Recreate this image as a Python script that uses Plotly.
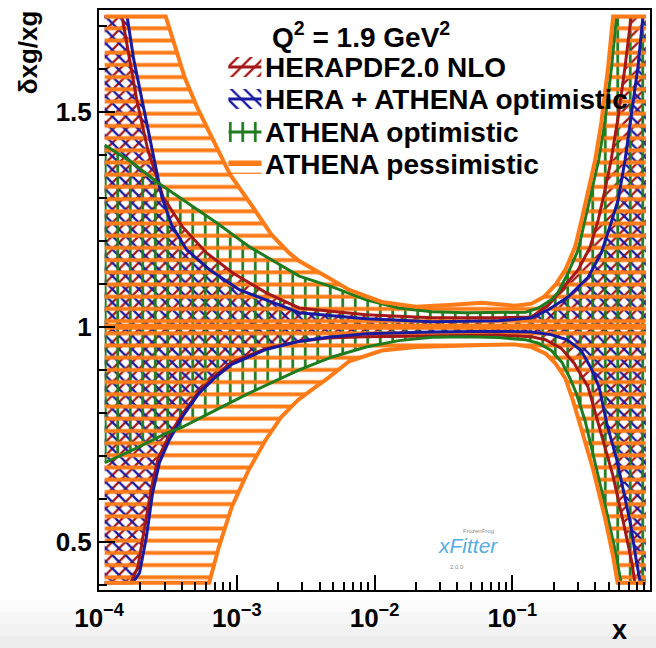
import plotly.graph_objects as go

# Relative gluon uncertainty bands, delta xg / xg at Q^2 = 1.9 GeV^2
# --- HERAPDF2.0 NLO ---
hera_x_up = [1.10e-4, 1.47e-4, 1.67e-4, 1.88e-4, 2.26e-4, 2.92e-4, 4.03e-4, 6.04e-4, 9.31e-4,
             1.64e-3, 2.84e-3, 8.69e-3, 2.61e-2, 7.94e-2, 0.138, 0.183, 0.227, 0.301, 0.368,
             0.421, 0.465, 0.522, 0.587, 0.659, 0.730, 0.933]
hera_up = [1.722, 1.722, 1.621, 1.528, 1.412, 1.302, 1.233, 1.172, 1.126,
           1.079, 1.044, 1.028, 1.021, 1.021, 1.023, 1.051, 1.086, 1.133, 1.186,
           1.249, 1.310, 1.388, 1.488, 1.605, 1.722, 1.722]
hera_x_lo = [1.10e-4, 1.70e-4, 1.91e-4, 2.14e-4, 2.40e-4, 2.69e-4, 3.24e-4, 4.03e-4, 5.33e-4,
             7.08e-4, 9.20e-4, 1.62e-3, 2.79e-3, 4.59e-3, 8.69e-3, 2.61e-2, 7.94e-2, 0.138,
             0.174, 0.227, 0.282, 0.355, 0.437, 0.537, 0.646, 0.741, 0.776, 0.933]
hera_lo = [0.405, 0.405, 0.440, 0.530, 0.625, 0.695, 0.748, 0.797, 0.850,
           0.888, 0.918, 0.949, 0.966, 0.974, 0.977, 0.979, 0.981, 0.977,
           0.970, 0.950, 0.915, 0.860, 0.760, 0.655, 0.540, 0.450, 0.405, 0.405]

# --- HERA + ATHENA optimistic ---
comb_x_up = [1.10e-4, 1.60e-4, 1.79e-4, 2.05e-4, 2.42e-4, 2.86e-4, 3.37e-4, 4.34e-4, 6.35e-4,
             1.05e-3, 2.04e-3, 2.84e-3, 8.69e-3, 2.61e-2, 7.94e-2, 0.138, 0.183, 0.255,
             0.356, 0.443, 0.522, 0.587, 0.659, 0.730, 0.818, 0.889, 0.933]
comb_up = [1.722, 1.722, 1.621, 1.528, 1.412, 1.302, 1.237, 1.179, 1.133,
           1.086, 1.051, 1.033, 1.019, 1.012, 1.014, 1.021, 1.040, 1.070,
           1.116, 1.172, 1.242, 1.295, 1.388, 1.488, 1.605, 1.722, 1.722]
comb_x_lo = [1.10e-4, 1.76e-4, 1.97e-4, 2.21e-4, 2.45e-4, 2.75e-4, 3.24e-4, 4.03e-4, 5.33e-4,
             7.08e-4, 9.20e-4, 1.62e-3, 2.79e-3, 4.59e-3, 8.69e-3, 2.61e-2, 7.94e-2, 0.138,
             0.191, 0.251, 0.316, 0.372, 0.427, 0.490, 0.575, 0.646, 0.724, 0.794, 0.851, 0.933]
comb_lo = [0.405, 0.405, 0.428, 0.512, 0.614, 0.685, 0.737, 0.791, 0.846,
           0.884, 0.913, 0.947, 0.966, 0.976, 0.984, 0.988, 0.990, 0.988,
           0.982, 0.970, 0.945, 0.905, 0.860, 0.770, 0.690, 0.614, 0.540, 0.458, 0.405, 0.405]

# --- ATHENA optimistic ---
opt_x_up = [1.10e-4, 1.76e-4, 2.63e-4, 4.06e-4, 7.14e-4, 1.24e-3, 2.14e-3, 2.84e-3, 4.93e-3,
            8.69e-3, 1.50e-2, 2.61e-2, 4.59e-2, 7.94e-2, 0.125, 0.155, 0.192, 0.216, 0.255,
            0.301, 0.336, 0.371, 0.424, 0.469, 0.526, 0.571, 0.933]
opt_up = [1.423, 1.381, 1.337, 1.295, 1.242, 1.186, 1.140, 1.118, 1.093,
          1.063, 1.044, 1.035, 1.033, 1.033, 1.034, 1.044, 1.063, 1.081, 1.126,
          1.179, 1.245, 1.310, 1.388, 1.474, 1.605, 1.722, 1.722]
opt_x_lo = [1.10e-4, 1.76e-4, 3.09e-4, 4.03e-4, 7.08e-4, 1.23e-3, 2.11e-3, 2.84e-3, 4.93e-3,
            8.69e-3, 1.50e-2, 2.61e-2, 4.59e-2, 7.94e-2, 0.125, 0.155, 0.192, 0.229, 0.263,
            0.292, 0.339, 0.407, 0.484, 0.550, 0.596, 0.617, 0.933]
opt_lo = [0.684, 0.714, 0.753, 0.767, 0.807, 0.846, 0.881, 0.900, 0.930,
          0.953, 0.968, 0.976, 0.977, 0.975, 0.970, 0.962, 0.945, 0.918, 0.880,
          0.845, 0.780, 0.675, 0.570, 0.490, 0.430, 0.405, 0.405]

# --- ATHENA pessimistic ---
pes_x_up = [1.10e-4, 3.05e-4, 3.66e-4, 4.19e-4, 5.12e-4, 6.68e-4, 8.91e-4, 1.30e-3, 1.78e-3,
            2.40e-3, 2.84e-3, 4.53e-3, 6.55e-3, 1.13e-2, 2.00e-2, 3.46e-2, 6.00e-2, 0.105,
            0.138, 0.170, 0.206, 0.243, 0.286, 0.317, 0.350, 0.400, 0.443, 0.497, 0.540, 0.933]
pes_up = [1.722, 1.722, 1.641, 1.580, 1.513, 1.435, 1.355, 1.280, 1.215,
          1.172, 1.153, 1.116, 1.086, 1.058, 1.047, 1.051, 1.056, 1.049,
          1.054, 1.070, 1.098, 1.133, 1.186, 1.245, 1.310, 1.388, 1.474, 1.605, 1.722, 1.722]
pes_x_lo = [1.10e-4, 6.31e-4, 7.41e-4, 9.20e-4, 1.22e-3, 1.62e-3, 2.11e-3, 2.79e-3, 3.72e-3,
            4.59e-3, 6.55e-3, 1.13e-2, 2.00e-2, 3.46e-2, 6.00e-2, 0.105, 0.138, 0.174,
            0.206, 0.243, 0.275, 0.316, 0.389, 0.468, 0.537, 0.582, 0.933]
pes_lo = [0.405, 0.405, 0.488, 0.581, 0.667, 0.737, 0.791, 0.830, 0.860,
          0.881, 0.920, 0.945, 0.953, 0.956, 0.958, 0.959, 0.953, 0.938,
          0.915, 0.880, 0.830, 0.765, 0.665, 0.560, 0.470, 0.405, 0.405]

# ratio of each central fit to itself
central = [1.0, 1.0]

labels = ["HERAPDF2.0 NLO", "HERA + ATHENA optimistic", "ATHENA optimistic", "ATHENA pessimistic"]
x_tickvals = [1e-4, 1e-3, 1e-2, 1e-1, 1]
x_ticktext = ["10<sup>\u22124</sup>", "10<sup>\u22123</sup>", "10<sup>\u22122</sup>",
              "10<sup>\u22121</sup>", "1"]
y_tickvals = [0.5, 1.0, 1.5]
y_ticktext = ["0.5", "1", "1.5"]

FONT = "Liberation Sans, Arial, Helvetica, sans-serif"
RED, BLUE, GREEN, ORANGE = "#a51818", "#1a1aa0", "#1f7c1f", "#ff7b17"

bands = [
    dict(label=labels[0], color=RED, shape="/", size=9.4, solidity=0.25, lw=3, clw=3,
         xu=hera_x_up, yu=hera_up, xl=hera_x_lo, yl=hera_lo),
    dict(label=labels[1], color=BLUE, shape="\\", size=9.4, solidity=0.25, lw=3, clw=3,
         xu=comb_x_up, yu=comb_up, xl=comb_x_lo, yl=comb_lo),
    dict(label=labels[2], color=GREEN, shape="|", size=12.5, solidity=0.22, lw=3, clw=3,
         xu=opt_x_up, yu=opt_up, xl=opt_x_lo, yl=opt_lo),
    dict(label=labels[3], color=ORANGE, shape="-", size=12.2, solidity=0.32, lw=4, clw=6,
         xu=pes_x_up, yu=pes_up, xl=pes_x_lo, yl=pes_lo),
]


def pattern(b):
    return dict(shape=b["shape"], fgcolor=b["color"], bgcolor="rgba(0,0,0,0)",
                size=b["size"], solidity=b["solidity"], fillmode="replace")


fig = go.Figure()

# hatched bands
for b in bands:
    fig.add_trace(go.Scatter(x=b["xl"], y=b["yl"], mode="lines", line=dict(width=0),
                             hoverinfo="skip", showlegend=False))
    fig.add_trace(go.Scatter(x=b["xu"], y=b["yu"], mode="lines", line=dict(width=0),
                             fill="tonexty", fillcolor="rgba(0,0,0,0)",
                             fillpattern=pattern(b), name=b["label"], showlegend=False))

# band edges and central lines
for b in bands:
    for xs, ys in ((b["xl"], b["yl"]), (b["xu"], b["yu"])):
        fig.add_trace(go.Scatter(x=xs, y=ys, mode="lines",
                                 line=dict(color=b["color"], width=b["lw"]),
                                 hoverinfo="skip", showlegend=False))
    fig.add_trace(go.Scatter(x=[b["xl"][0], b["xl"][-1]], y=central, mode="lines",
                             line=dict(color=b["color"], width=b["clw"]),
                             hoverinfo="skip", showlegend=False))

# plot-area geometry in pixels, used to place the key and texts
L, R, T, B = 99, 652, 10, 590


def px_x(px):
    return (px - L) / (R - L)


def px_y(py):
    return (B - py) / (B - T)


# legend keys: hatched box with the band line through it
key_rows = [67, 99, 132, 164]
kx0, kx1, kh = px_x(229), px_x(262), 10
for b, row in zip(bands, key_rows):
    yb, yt, yc = px_y(row + kh), px_y(row - kh), px_y(row)
    fig.add_trace(go.Scatter(x=[kx0, kx1, kx1, kx0, kx0], y=[yb, yb, yt, yt, yb],
                             mode="lines", line=dict(width=0), fill="toself",
                             fillcolor="rgba(0,0,0,0)", fillpattern=pattern(b),
                             xaxis="x2", yaxis="y2", hoverinfo="skip", showlegend=False))
    fig.add_trace(go.Scatter(x=[kx0, kx1], y=[yc, yc], mode="lines",
                             line=dict(color=b["color"], width=b["lw"]),
                             xaxis="x2", yaxis="y2", hoverinfo="skip", showlegend=False))

bold = dict(family=FONT, size=28, color="black", weight="bold")
ann = [
    dict(text="Q<sup>2</sup> = 1.9 GeV<sup>2</sup>", x=px_x(271), y=px_y(35),
         xanchor="left", yanchor="middle", font=bold),
]
for lab, row in zip(labels, key_rows):
    ann.append(dict(text=lab, x=px_x(264), y=px_y(row), xanchor="left", yanchor="middle",
                    font=bold))
ann.append(dict(text="\u03b4xg/xg", x=px_x(28), y=px_y(52), textangle=-90,
                xanchor="center", yanchor="middle",
                font=dict(family=FONT, size=26, color="black", weight="bold")))
ann.append(dict(text="x", x=px_x(621), y=px_y(647), xanchor="center", yanchor="bottom",
                font=dict(family=FONT, size=27, color="black", weight="bold")))
# xFitter badge
ann.append(dict(text="<i>xFitter</i>", x=px_x(469), y=px_y(545), xanchor="center",
                yanchor="middle", font=dict(family=FONT, size=21, color="#56ade0")))
ann.append(dict(text="FrozenFrog", x=px_x(480), y=px_y(531), xanchor="center",
                yanchor="middle", font=dict(family=FONT, size=6, color="#8a8a8a")))
ann.append(dict(text="2.0.0", x=px_x(458), y=px_y(567), xanchor="center",
                yanchor="middle", font=dict(family=FONT, size=6, color="#8a8a8a")))
for a in ann:
    a.update(xref="paper", yref="paper", showarrow=False)

# soft grey strip at the very bottom of the page
strip = [(600, 612, "#fcfcfc"), (612, 624, "#f7f7f7"), (624, 636, "#f2f2f2"),
         (636, 649, "#ededed")]
shapes = [dict(type="rect", xref="paper", yref="paper", x0=px_x(-2), x1=px_x(660),
               y0=px_y(p1), y1=px_y(p0), fillcolor=c, line=dict(width=0), layer="below")
          for p0, p1, c in strip]

x_minor = [k * 10.0 ** p for p in range(-4, 0) for k in range(2, 10)]
y_minor = [0.4, 0.6, 0.7, 0.8, 0.9, 1.1, 1.2, 1.3, 1.4, 1.6, 1.7]
tickfont = dict(family=FONT, size=26, color="black", weight="bold")

fig.update_layout(
    width=656, height=648,
    margin=dict(l=L, r=656 - R, t=T, b=648 - B),
    paper_bgcolor="white", plot_bgcolor="white",
    showlegend=False,
    annotations=ann, shapes=shapes,
    xaxis=dict(type="log", range=[-4, 0], tickmode="array", tickvals=x_tickvals,
               ticktext=x_ticktext, ticks="inside", ticklen=15, tickwidth=1.5,
               tickcolor="black", showline=True, linewidth=2, linecolor="black",
               mirror=True, showgrid=False, zeroline=False, tickfont=tickfont,
               ticklabelstandoff=4,
               minor=dict(tickvals=x_minor, ticks="inside", ticklen=8, tickwidth=1.5,
                          tickcolor="black", showgrid=False)),
    yaxis=dict(range=[0.388, 1.737], tickmode="array", tickvals=y_tickvals,
               ticktext=y_ticktext, ticks="inside", ticklen=16, tickwidth=1.5,
               tickcolor="black", showline=True, linewidth=2, linecolor="black",
               mirror=True, showgrid=False, zeroline=False, tickfont=tickfont,
               minor=dict(tickvals=y_minor, ticks="inside", ticklen=8, tickwidth=1.5,
                          tickcolor="black", showgrid=False)),
    xaxis2=dict(domain=[0, 1], range=[0, 1], overlaying="x", anchor="y2", visible=False),
    yaxis2=dict(domain=[0, 1], range=[0, 1], overlaying="y", anchor="x2", visible=False),
)

fig.write_html("out.html")
